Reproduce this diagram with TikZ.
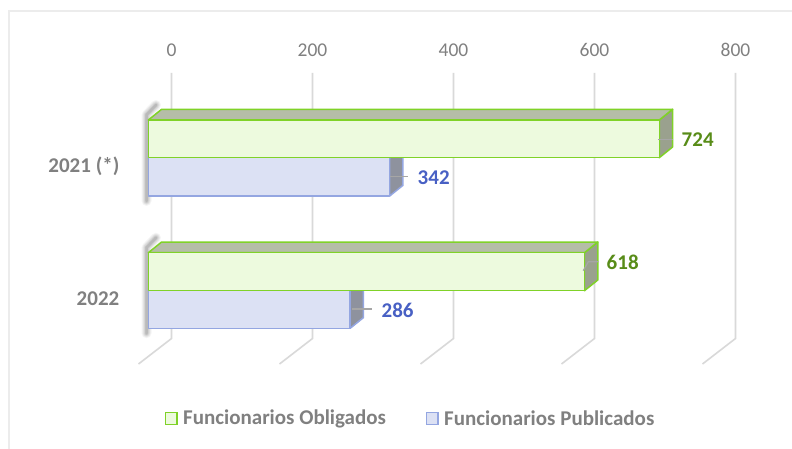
\documentclass[tikz,border=0pt]{standalone}
\usepackage{fontspec}
\setmainfont{Carlito}
\definecolor{gridgray}{RGB}{217,217,217}
\definecolor{txtgray}{RGB}{128,128,128}
\definecolor{framegray}{RGB}{236,236,236}
\definecolor{greenEdge}{RGB}{128,210,40}
\definecolor{greenFill}{RGB}{237,250,222}
\definecolor{greenTop}{RGB}{181,189,168}
\definecolor{greenSide}{RGB}{154,161,142}
\definecolor{blueEdge}{RGB}{148,166,225}
\definecolor{blueFill}{RGB}{220,225,244}
\definecolor{blueSide}{RGB}{142,146,158}
\definecolor{greenLabel}{RGB}{88,140,24}
\definecolor{blueLabel}{RGB}{72,96,196}
\definecolor{leadgray}{RGB}{166,166,166}
\def\xz{148.3}\def\sc{0.7058}\def\ddx{13.3}\def\ddy{10.7}
\newcommand{\mybar}[7]{%
  \pgfmathsetmacro\xe{\xz+#3*\sc}%
  \pgfmathsetmacro\yb{#1+#2}%
  \filldraw[fill=#6,draw=#5,barline] (\xe,#1) -- (\xe+\ddx,#1-\ddy) -- (\xe+\ddx,\yb-\ddy) -- (\xe,\yb) -- cycle;
  \filldraw[fill=#7,draw=#5,barline] (\xz,#1) -- (\xz+\ddx,#1-\ddy) -- (\xe+\ddx,#1-\ddy) -- (\xe,#1) -- cycle;
  \filldraw[fill=#4,draw=#5,barline] (\xz,#1) rectangle (\xe,\yb);
}
\newcommand{\myshadow}[2]{%
  \foreach \w/\o in {10/0.04,8/0.05,6/0.06,4/0.07,2.5/0.08}{
    \draw[line width=\w pt,black,opacity=\o,line cap=round,line join=round]
      (156,#1-15) -- (146.5,#1-5) -- (146.5,#2+5);
  }
}
\tikzset{
  barline/.style={line width=1.5pt,line join=round},
  axlab/.style={font=\fontsize{19.5}{22}\selectfont,text=txtgray,inner sep=0pt},
  catlab/.style={font=\fontsize{21}{24}\selectfont\bfseries,text=txtgray,inner sep=0pt,anchor=east},
  vallab/.style={font=\fontsize{21}{24}\selectfont\bfseries,inner sep=0pt,anchor=west},
  leglab/.style={font=\fontsize{21}{24}\selectfont\bfseries,text=txtgray,inner sep=0pt,anchor=west},
  grid line/.style={gridgray,line width=1.6pt},
  leader/.style={leadgray,line width=1.3pt}
}
\begin{document}
\begin{tikzpicture}[x=1pt,y=-1pt]
\useasboundingbox (0,0) rectangle (792,449);
\fill[white] (0,0) rectangle (792,449);
% faint frame
\draw[framegray,line width=1.5pt] (8,11) -- (792,11);
\draw[framegray,line width=1.5pt] (9,11) -- (9,449);
% grid lines and axis labels
\foreach \v/\nm [count=\i from 0] in {0/a0,200/a200,400/a400,600/a600,800/a800}{
  \pgfmathsetmacro\gx{171.5+141*\i}
  \draw[grid line] (\gx,73) -- (\gx,338.5) -- (\gx-33,364);
  \node[axlab] (\nm) at (\gx,50) {\v};
}
% shadows
\myshadow{120}{196}
\myshadow{252.7}{328.3}
% bars 2021
\mybar{157.7}{38.3}{342}{blueFill}{blueEdge}{blueSide}{blueSide}
\mybar{120}{37.7}{724}{greenFill}{greenEdge}{greenSide}{greenTop}
% bars 2022
\mybar{290.7}{37.6}{286}{blueFill}{blueEdge}{blueSide}{blueSide}
\mybar{252.7}{38}{618}{greenFill}{greenEdge}{greenSide}{greenTop}
% leaders and value labels
\node[vallab,text=greenLabel] (v724) at (681.5,140) {724};
\coordinate (l724) at (658,139.3);
\draw[leader] (l724) -- (673,139.3);
\node[vallab,text=blueLabel] (v342) at (417.5,178) {342};
\coordinate (l342) at (390,176.7);
\draw[leader] (l342) -- (408,176.7);
\node[vallab,text=greenLabel] (v618) at (606.5,262.3) {618};
\coordinate (l618) at (583.3,270.7);
\draw[leader] (l618) -- (588.3,261.7) -- (598.3,261.7);
\node[vallab,text=blueLabel] (v286) at (381.5,310.5) {286};
\coordinate (l286) at (352,309);
\draw[leader] (l286) -- (372,309);
% category labels
\node[catlab] (c2021) at (119.5,166.7) {2021 (*)};
\node[catlab] (c2022) at (119.5,299) {2022};
% legend
\filldraw[fill=greenFill,draw=greenEdge,line width=1.6pt] (165.5,412.5) rectangle (177,424.5);
\node[leglab] (lg1) at (183,418.5) {Funcionarios Obligados};
\filldraw[fill=blueFill,draw=blueEdge,line width=1.6pt] (426.5,412.5) rectangle (438,424.5);
\node[leglab] (lg2) at (444,418.5) {Funcionarios Publicados};
\end{tikzpicture}
\end{document}
